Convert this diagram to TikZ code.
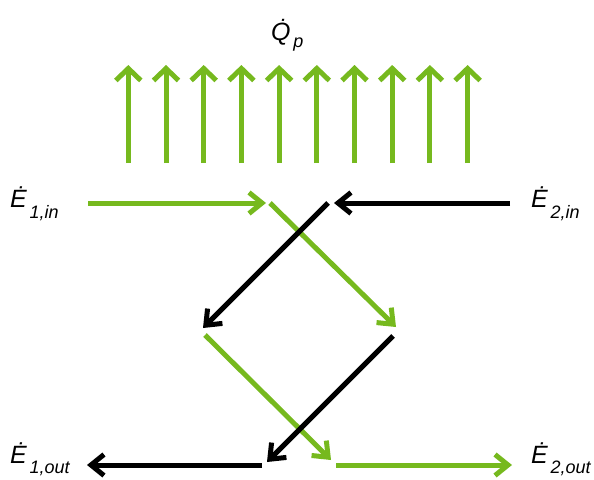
\documentclass[tikz,border=0pt]{standalone}
\usepackage{fontspec}
\setmainfont{Liberation Sans}
\usetikzlibrary{arrows.meta}
\definecolor{lgreen}{RGB}{118,185,30}
\newcommand\enlabel[3]{\fontsize{25}{25}\selectfont\itshape\.{#1}\kern3pt\raisebox{-#3}{\fontsize{18}{18}\selectfont #2}}
\begin{document}
\begin{tikzpicture}[x=1pt,y=-1pt,
  flow/.style={line width=5pt,-{Straight Barb[length=13pt,width=21pt]}},
  gflow/.style={flow,draw=lgreen},
  kflow/.style={flow,draw=black},
  upflow/.style={line width=5pt,draw=lgreen,-{Straight Barb[length=12pt,width=25pt]}},
  lbl/.style={anchor=base west,inner sep=0pt,outer sep=0pt}]
\useasboundingbox (0,0) rectangle (594,479);
% heat arrows
\foreach \i in {0,...,9}{
  \coordinate (u\i b) at ({128.3+37.7*\i},163);
  \coordinate (u\i t) at ({128.3+37.7*\i},65);
  \draw[upflow] (u\i b) -- (u\i t);
}
\node[lbl] (qp) at (271,40) {\enlabel{Q}{p}{7pt}};
% labels
\node[lbl] (e1in) at (10,207) {\enlabel{E}{1,in}{11pt}};
\node[lbl] (e2in) at (531,207) {\enlabel{E}{2,in}{11pt}};
\node[lbl] (e1out) at (10,463) {\enlabel{E}{1,out}{10pt}};
\node[lbl] (e2out) at (531,463) {\enlabel{E}{2,out}{10pt}};
% coordinates
\coordinate (a1s) at (88,203);   \coordinate (a1e) at (266,203);
\coordinate (a2s) at (510,203);  \coordinate (a2e) at (334,203);
\coordinate (a3s) at (270,203);  \coordinate (a3e) at (396,327);
\coordinate (a4s) at (328,203);  \coordinate (a4e) at (203,328);
\coordinate (a5s) at (205,335);  \coordinate (a5e) at (331,460);
\coordinate (a6s) at (393,336);  \coordinate (a6e) at (267,462);
\coordinate (a7s) at (262,465);  \coordinate (a7e) at (87,465);
\coordinate (a8s) at (336,465);  \coordinate (a8e) at (512,465);
% flows
\draw[gflow] (a1s) -- (a1e);
\draw[kflow] (a2s) -- (a2e);
\draw[gflow] (a3s) -- (a3e);
\draw[kflow] (a4s) -- (a4e);
\draw[gflow] (a5s) -- (a5e);
\draw[kflow] (a6s) -- (a6e);
\draw[kflow] (a7s) -- (a7e);
\draw[gflow] (a8s) -- (a8e);
\end{tikzpicture}
\end{document}
